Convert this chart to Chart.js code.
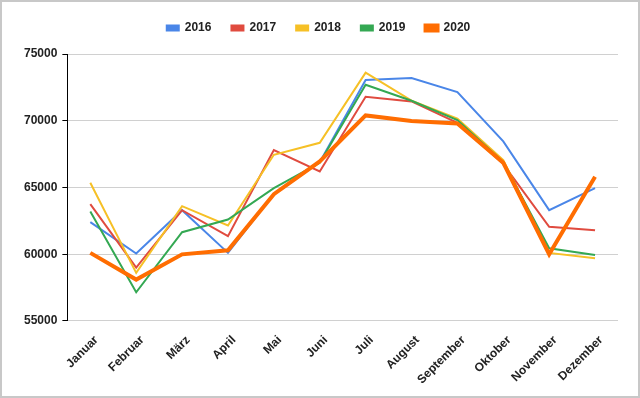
<!DOCTYPE html>
<html>
<head>
<meta charset="utf-8">
<script src="https://cdn.jsdelivr.net/npm/chart.js@4"></script>
<style>
  html, body { margin: 0; padding: 0; background: #fff; }
  #wrap { position: relative; width: 640px; height: 398px; box-sizing: border-box; border: 2px solid #c8c8c8; background: #fff; }
  #c { display: block; }
</style>
</head>
<body>
<div id="wrap"><canvas id="c" width="636" height="394"></canvas></div>
<script>
const months = ["Januar","Februar","März","April","Mai","Juni","Juli","August","September","Oktober","November","Dezember"];
const years = ["2016","2017","2018","2019","2020"];
const v2016 = [62400, 60050, 63300, 60100, 64500, 66900, 73050, 73200, 72150, 68450, 63300, 64950];
const v2017 = [63750, 59000, 63300, 61350, 67800, 66200, 71800, 71450, 69850, 66750, 62050, 61800];
const v2018 = [65350, 58600, 63600, 62150, 67450, 68350, 73600, 71500, 70150, 67050, 60100, 59700];
const v2019 = [63200, 57150, 61650, 62600, 64950, 66850, 72700, 71500, 70050, 66900, 60450, 59950];
const v2020 = [60100, 58100, 59990, 60300, 64500, 66950, 70400, 69980, 69800, 66850, 60000, 65800];
const yTicks = [55000, 60000, 65000, 70000, 75000];

const series = [v2016, v2017, v2018, v2019, v2020];
const colors = ["#4a86e8", "#e04b3f", "#f6c026", "#34a853", "#ff6d01"];
const widths = [2, 2, 2, 2, 4];

const font = { family: "'Liberation Sans', Arial, sans-serif", size: 12, weight: "bold" };

const legendSpacer = {
  id: "legendSpacer",
  beforeInit(chart) {
    const orig = chart.legend.fit;
    chart.legend.fit = function () {
      orig.call(this);
      this.height += 10;
    };
  }
};

new Chart(document.getElementById("c"), {
  type: "line",
  plugins: [legendSpacer],
  data: {
    labels: months,
    datasets: series.map((d, i) => ({
      label: years[i],
      data: d,
      borderColor: colors[i],
      backgroundColor: colors[i],
      borderWidth: widths[i],
      pointRadius: 0,
      tension: 0,
      fill: false,
      order: series.length - 1 - i
    }))
  },
  options: {
    responsive: false,
    animation: false,
    layout: { padding: { left: 17, right: 20, top: 0, bottom: 0 } },
    plugins: {
      legend: {
        position: "top",
        align: "center",
        labels: {
          font: font,
          color: "#222",
          boxWidth: 12,
          boxHeight: 5,
          padding: 20,
          sort: (a, b) => a.datasetIndex - b.datasetIndex
        }
      },
      tooltip: { enabled: false }
    },
    scales: {
      x: {
        offset: true,
        grid: { display: false, drawTicks: false },
        border: { display: false },
        afterFit: (axis) => { axis.height -= 3; },
        ticks: { font: font, color: "#222", minRotation: 45, maxRotation: 45, autoSkip: false, padding: 12, labelOffset: 6 }
      },
      y: {
        min: 55000,
        max: 75000,
        afterBuildTicks: (axis) => { axis.ticks = yTicks.map(v => ({ value: v })); },
        grid: { color: "#d0d0d0", lineWidth: 1, tickColor: "#000", tickLength: 5, drawTicks: true },
        border: { display: true, color: "#000", width: 1 },
        ticks: { font: font, color: "#222", padding: 5, callback: (v) => String(v) }
      }
    }
  }
});
</script>
</body>
</html>
